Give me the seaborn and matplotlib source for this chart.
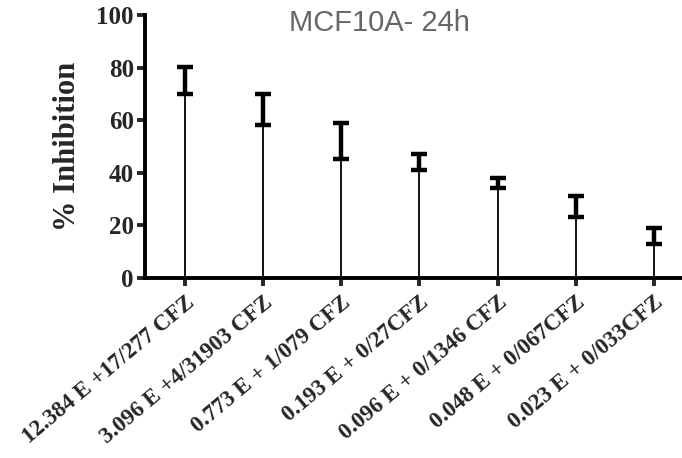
import numpy as np
import matplotlib
matplotlib.use('Agg')
import matplotlib.pyplot as plt
import seaborn as sns

# Data
labels = ['12.384 E +17/277 CFZ', '3.096 E +4/31903 CFZ', '0.773 E + 1/079 CFZ',
          '0.193 E + 0/27CFZ', '0.096 E + 0/1346 CFZ', '0.048 E + 0/067CFZ',
          '0.023 E + 0/033CFZ']
lower = [70.0, 58.0, 45.2, 41.0, 34.1, 23.0, 12.7]
upper = [80.4, 70.1, 59.0, 47.2, 37.9, 31.1, 19.0]

sns.set_style('ticks')
plt.rcParams['font.family'] = ['Liberation Serif', 'DejaVu Serif']

fig = plt.figure(figsize=(6.82, 4.58), dpi=100)
ax = fig.add_axes([0.2126, 0.3937, 0.7874, 0.5733])

# thin stems from 0 up to the lower end of each range
sns.barplot(x=labels, y=lower, width=0.0, color='black', saturation=1,
            edgecolor='black', linewidth=1.3, ax=ax)

# ranges drawn as capped error bars
lo = np.array(lower)
hi = np.array(upper)
mid = (lo + hi) / 2
ax.errorbar(np.arange(len(labels)), mid, yerr=(hi - lo) / 2, fmt='none',
            ecolor='black', elinewidth=3.2, capsize=6, capthick=3.2)

ax.set_xlim(-0.51, 6.36)
ax.set_ylim(0, 100)
ax.set_yticks([0, 20, 40, 60, 80, 100])
ax.set_ylabel('% Inhibition', fontsize=22, fontweight='bold', labelpad=10)

for s in ['top', 'right']:
    ax.spines[s].set_visible(False)
for s in ['left', 'bottom']:
    ax.spines[s].set_linewidth(2.8)
    ax.spines[s].set_color('black')

ax.tick_params(axis='y', length=6, width=2.8, labelsize=18, pad=2)
ax.tick_params(axis='x', length=6, width=2.8, labelsize=16.5, pad=4)
for t in ax.get_yticklabels():
    t.set_fontweight('bold')
for t in ax.get_xticklabels():
    t.set_fontweight('bold')
    t.set_rotation(40)
    t.set_ha('right')
    t.set_rotation_mode('anchor')

fig.text(0.557, 0.95, 'MCF10A- 24h', ha='center', va='center', fontsize=21,
         color='#666666', family=['Liberation Sans', 'DejaVu Sans'])

fig.savefig('out.png', dpi=100)
